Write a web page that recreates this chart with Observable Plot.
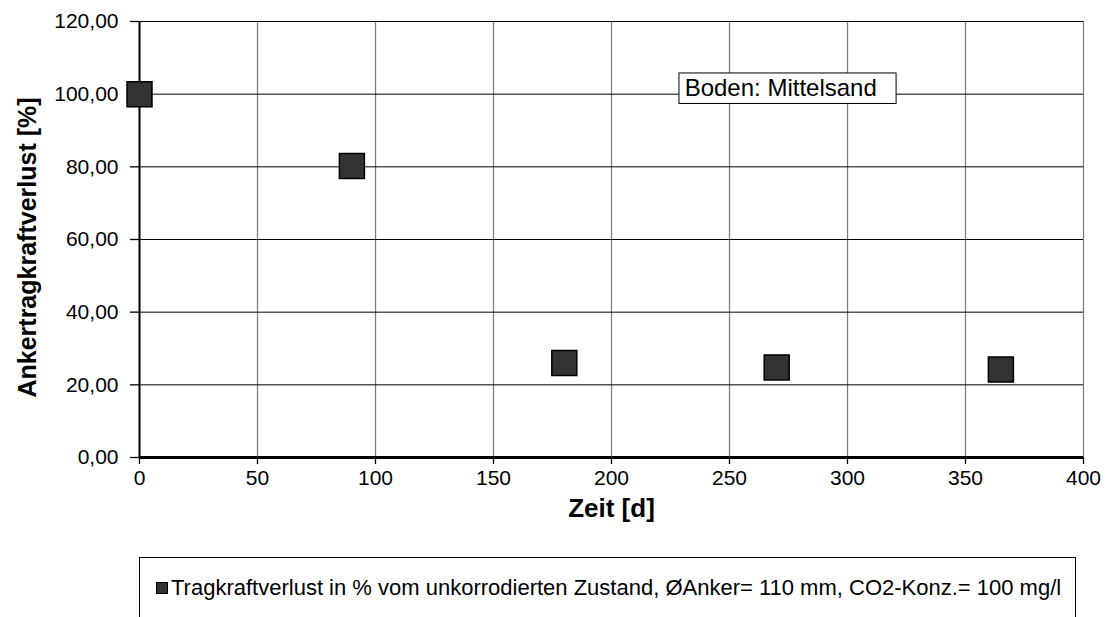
<!DOCTYPE html>
<html>
<head>
<meta charset="utf-8">
<script src="https://cdn.jsdelivr.net/npm/d3@7"></script>
<script src="https://cdn.jsdelivr.net/npm/@observablehq/plot@0.6"></script>
<style>
  body { margin: 0; background: #fff; font-family: "Liberation Sans", Arial, sans-serif; }
  #chart { position: relative; width: 1108px; height: 617px; overflow: hidden; }
  #chart svg { position: absolute; left: 0; top: 0; }
  #legend { position: absolute; left: 139px; top: 557px; width: 937px; height: 90px;
    border: 1px solid #000; box-sizing: border-box; background: #fff; }
  #legend .item { position: absolute; left: 16px; top: 16px; font-size: 22px; line-height: 28px; color: #000; white-space: nowrap; display: flex; align-items: center; }
  #legend .sw { width: 12px; height: 12px; background: #333; border: 1px solid #000; box-sizing: border-box; margin-right: 3px; }
</style>
</head>
<body>
<div id="chart"></div>
<script>
// Data
const days = [0, 90, 180, 270, 365];
const loss = [100, 80.2, 26.0, 24.8, 24.2];
const xTicks = [0, 50, 100, 150, 200, 250, 300, 350, 400];
const yTicks = [0, 20, 40, 60, 80, 100, 120];
const xLabel = "Zeit [d]";
const yLabel = "Ankertragkraftverlust [%]";
const seriesName = "Tragkraftverlust in % vom unkorrodierten Zustand, ØAnker= 110 mm, CO2-Konz.= 100 mg/l";
const noteText = "Boden: Mittelsand";
const noteBox = {x1: 228.8, x2: 320.8, y1: 97.3, y2: 105.7, tx: 231, ty: 101.5};

const data = days.map((d, i) => ({day: d, loss: loss[i]}));
const fmt = v => v.toFixed(2).replace(".", ",");

const plot = Plot.plot({
  width: 1108,
  height: 557,
  marginLeft: 139,
  marginRight: 25,
  marginTop: 21,
  marginBottom: 100,
  style: {fontFamily: "'Liberation Sans', Arial, sans-serif", fontSize: "21px", color: "#000", background: "#fff", overflow: "visible"},
  x: {domain: [0, 400]},
  y: {domain: [0, 120]},
  marks: [
    Plot.ruleX(xTicks.filter(d => d > 0), {stroke: "#808080", strokeWidth: 1.3}),
    Plot.ruleY(yTicks.filter(d => d > 0), {stroke: "#000", strokeWidth: 1}),
    Plot.axisX({ticks: xTicks, tickSize: 7, tickPadding: 6, label: null, fontSize: 21, stroke: "#000", strokeWidth: 1.3}),
    Plot.axisY({ticks: yTicks, tickSize: 9, tickPadding: 12, label: null, fontSize: 21, tickFormat: fmt, strokeWidth: 1.3}),
    Plot.ruleX([0], {stroke: "#000", strokeWidth: 2}),
    Plot.ruleY([0], {stroke: "#000", strokeWidth: 3}),
    Plot.rect([noteBox], {x1: "x1", x2: "x2", y1: "y1", y2: "y2", fill: "#fff", stroke: "#000", strokeWidth: 1}),
    Plot.text([noteText], {x: noteBox.tx, y: noteBox.ty, text: d => d, textAnchor: "start", fontSize: 24, fill: "#000"}),
    Plot.dot(data, {x: "day", y: "loss", symbol: "square", r: 14.1, fill: "#333333", stroke: "#000", strokeWidth: 1.5}),
    Plot.text([xLabel], {frameAnchor: "bottom", dy: 59, text: d => d, fontSize: 26, fontWeight: "bold", fill: "#000"}),
    Plot.text([yLabel], {frameAnchor: "left", dx: -112, dy: 8, rotate: -90, textAnchor: "middle", text: d => d, fontSize: 25, fontWeight: "bold", fill: "#000"})
  ]
});
const chart = document.getElementById("chart");
chart.appendChild(plot);
const legend = document.createElement("div");
legend.id = "legend";
legend.innerHTML = `<div class="item"><span class="sw"></span><span></span></div>`;
legend.querySelector(".item span:last-child").textContent = seriesName;
chart.appendChild(legend);
</script>
</body>
</html>
